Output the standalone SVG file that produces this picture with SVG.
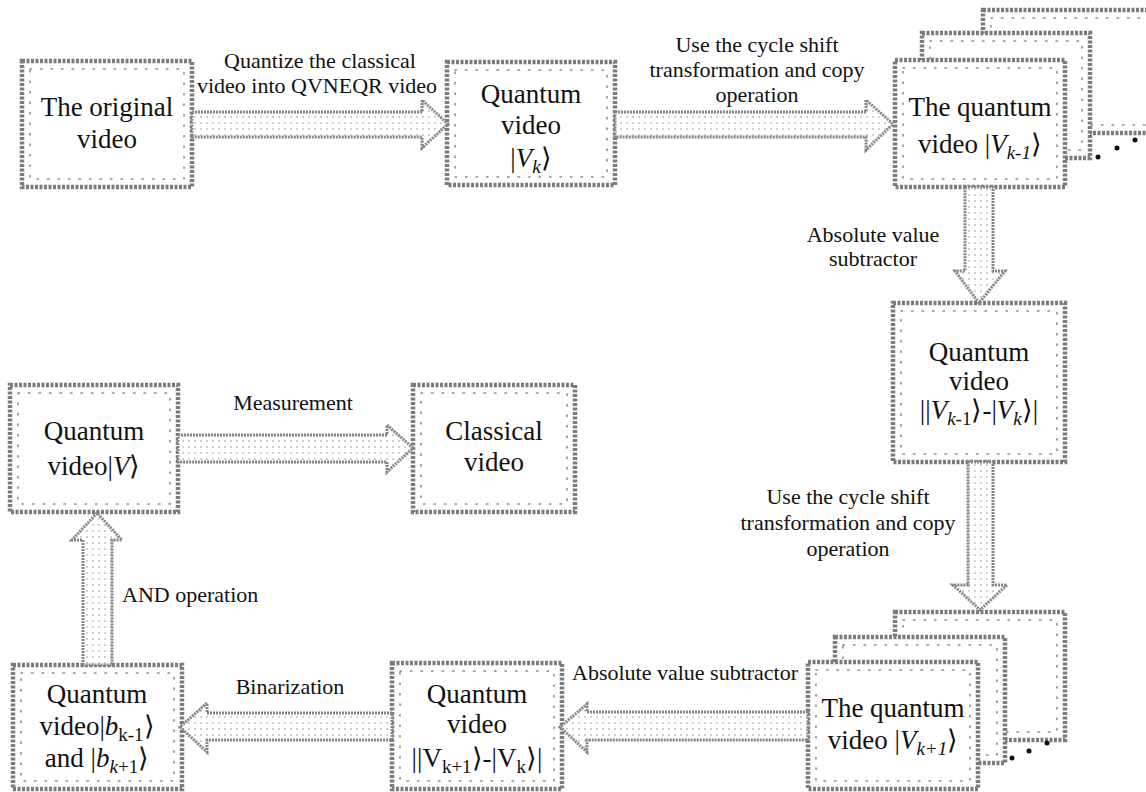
<svg xmlns="http://www.w3.org/2000/svg" width="1146" height="792" viewBox="0 0 1146 792">
<style>
  .box{fill:#fff;stroke:#7c7c7c;stroke-width:4.5;stroke-dasharray:3 1.5}
  .inner{fill:none;stroke:#8e8e8e;stroke-width:1.6;stroke-dasharray:1.5 9;stroke-linecap:round}
  .arr{fill:url(#dots);stroke:#858585;stroke-width:3;stroke-dasharray:2 1;stroke-linejoin:miter}
  .t{font-family:"Liberation Serif","Times New Roman",serif;font-size:27px;fill:#111;text-anchor:middle}
  .l{font-family:"Liberation Serif","Times New Roman",serif;font-size:22px;fill:#111;text-anchor:middle}
  .ls{text-anchor:start}
  .i{font-style:italic}
  .dot{fill:#111}
</style>
<defs>
  <pattern id="dots" width="6" height="6" patternUnits="userSpaceOnUse">
    <rect width="6" height="6" fill="#fff"/>
    <circle cx="3" cy="3" r="0.8" fill="#999"/>
  </pattern>
</defs>
<rect width="1146" height="792" fill="#fff"/>

<g id="node-original">
  <rect class="box" x="22" y="61" width="170" height="126"/>
  <rect class="inner" x="30" y="69" width="154" height="110"/>
  <text class="t" x="107" y="116">The original</text>
  <text class="t" x="107" y="148">video</text>
</g>

<g id="node-vk">
  <rect class="box" x="447" y="62" width="168" height="123"/>
  <rect class="inner" x="455" y="70" width="152" height="107"/>
  <text class="t" x="531" y="103">Quantum</text>
  <text class="t" x="531" y="134">video</text>
  <text class="t" x="531" y="167">|<tspan class="i">V</tspan><tspan class="i" font-size="19" dy="6">k</tspan><tspan dy="-6">⟩</tspan></text>
</g>

<g id="node-vk-1">
  <rect class="box" x="983" y="10" width="175" height="123"/>
  <rect class="inner" x="991" y="18" width="160" height="107"/>
  <rect class="box" x="922" y="33" width="168" height="125"/>
  <rect class="inner" x="930" y="41" width="152" height="109"/>
  <rect class="box" x="895" y="60" width="170" height="127"/>
  <rect class="inner" x="903" y="68" width="154" height="111"/>
  <circle class="dot" cx="1098" cy="157" r="2.5"/>
  <circle class="dot" cx="1117" cy="148" r="2.5"/>
  <circle class="dot" cx="1135" cy="140" r="2.5"/>
  <text class="t" x="980" y="116">The quantum</text>
  <text class="t" x="980" y="153">video |<tspan class="i">V</tspan><tspan class="i" font-size="19" dy="6">k-1</tspan><tspan dy="-6">⟩</tspan></text>
</g>

<g id="node-diff1">
  <rect class="box" x="893" y="303" width="172" height="159"/>
  <rect class="inner" x="901" y="311" width="156" height="143"/>
  <text class="t" x="979" y="361">Quantum</text>
  <text class="t" x="979" y="390">video</text>
  <text class="t" x="979" y="419">||<tspan class="i">V</tspan><tspan class="i" font-size="19" dy="6">k</tspan><tspan font-size="19">-1</tspan><tspan dy="-6">⟩-|</tspan><tspan class="i">V</tspan><tspan class="i" font-size="19" dy="6">k</tspan><tspan dy="-6">⟩|</tspan></text>
</g>

<g id="node-vk+1">
  <rect class="box" x="895" y="612" width="170" height="128"/>
  <rect class="inner" x="903" y="620" width="154" height="112"/>
  <rect class="box" x="835" y="637" width="170" height="126"/>
  <rect class="inner" x="843" y="645" width="154" height="110"/>
  <rect class="box" x="808" y="662" width="170" height="127"/>
  <rect class="inner" x="816" y="670" width="154" height="111"/>
  <circle class="dot" cx="1012" cy="758" r="2.5"/>
  <circle class="dot" cx="1029" cy="751" r="2.5"/>
  <circle class="dot" cx="1047" cy="743" r="2.5"/>
  <text class="t" x="893" y="717">The quantum</text>
  <text class="t" x="893" y="749">video |<tspan class="i">V</tspan><tspan class="i" font-size="19" dy="6">k+1</tspan><tspan dy="-6">⟩</tspan></text>
</g>

<g id="node-diff2">
  <rect class="box" x="392" y="663" width="170" height="126"/>
  <rect class="inner" x="400" y="671" width="154" height="110"/>
  <text class="t" x="477" y="703">Quantum</text>
  <text class="t" x="477" y="733">video</text>
  <text class="t" x="477" y="767">||V<tspan font-size="19" dy="6">k+1</tspan><tspan dy="-6">⟩-|V</tspan><tspan font-size="19" dy="6">k</tspan><tspan dy="-6">⟩|</tspan></text>
</g>

<g id="node-bin">
  <rect class="box" x="13" y="665" width="169" height="124"/>
  <rect class="inner" x="21" y="673" width="153" height="108"/>
  <text class="t" x="97" y="703">Quantum</text>
  <text class="t" x="97" y="735">video|<tspan class="i">b</tspan><tspan font-size="19" dy="6">k-1</tspan><tspan dy="-6">⟩</tspan></text>
  <text class="t" x="97" y="767">and |<tspan class="i">b</tspan><tspan class="i" font-size="19" dy="6">k</tspan><tspan font-size="19">+1</tspan><tspan dy="-6">⟩</tspan></text>
</g>

<g id="node-v">
  <rect class="box" x="10" y="385" width="168" height="127"/>
  <rect class="inner" x="18" y="393" width="152" height="111"/>
  <text class="t" x="94" y="440">Quantum</text>
  <text class="t" x="94" y="475">video|<tspan class="i">V</tspan>⟩</text>
</g>

<g id="node-classical">
  <rect class="box" x="413" y="385" width="162" height="127"/>
  <rect class="inner" x="421" y="393" width="146" height="111"/>
  <text class="t" x="494" y="440">Classical</text>
  <text class="t" x="494" y="471">video</text>
</g>

<g id="connectors">
  <polygon class="arr" points="192,112 422,112 422,100 448,124 422,148 422,137 192,137"/>
  <polygon class="arr" points="615,112 866,112 866,100 893,124 866,150 866,137 615,137"/>
  <polygon class="arr" points="965,187 993,187 993,271 1005,271 979,303 955,271 965,271"/>
  <polygon class="arr" points="968,462 993,462 993,585 1007,585 980,610 953,585 968,585"/>
  <polygon class="arr" points="808,712 587,712 587,704 560,727 587,752 587,740 808,740"/>
  <polygon class="arr" points="392,713 207,713 207,703 180,727 207,752 207,740 392,740"/>
  <polygon class="arr" points="83,665 83,540 72,540 97,513 122,540 112,540 112,665"/>
  <polygon class="arr" points="178,435 387,435 387,425 413,448 387,472 387,462 178,462"/>
</g>

<g id="labels">
  <text class="l" x="320" y="68">Quantize the classical</text>
  <text class="l" x="317" y="93">video into QVNEQR video</text>
  <text class="l" x="757" y="52">Use the cycle shift</text>
  <text class="l" x="757" y="77">transformation and copy</text>
  <text class="l" x="757" y="102">operation</text>
  <text class="l" x="873" y="242">Absolute value</text>
  <text class="l" x="873" y="266">subtractor</text>
  <text class="l" x="848" y="504">Use the cycle shift</text>
  <text class="l" x="848" y="530">transformation and copy</text>
  <text class="l" x="848" y="556">operation</text>
  <text class="l ls" x="572" y="680">Absolute value subtractor</text>
  <text class="l" x="290" y="694">Binarization</text>
  <text class="l ls" x="122" y="602">AND operation</text>
  <text class="l" x="293" y="410">Measurement</text>
</g>
</svg>
